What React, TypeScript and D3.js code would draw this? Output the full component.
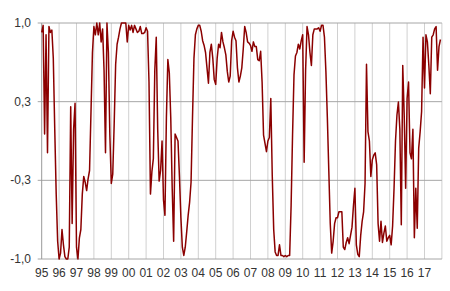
import React from "react";
import * as d3 from "d3";

// Monthly values, Jan 1995 – Dec 2017
const y1995 = [0.92, 0.98, 0.06, 0.9, -0.1, 0.97, 0.92, 0.94, 0.7, 0.1, -0.45, -0.85];
const y1996 = [-1.0, -0.95, -0.75, -0.88, -0.98, -1.0, -1.0, -0.9, 0.29, -0.7, 0.1, 0.32];
const y1997 = [-0.9, -1.0, -0.82, -0.75, -0.45, -0.3, -0.35, -0.42, -0.32, -0.25, 0.25, 0.75];
const y1998 = [0.97, 0.9, 1.0, 0.9, 1.0, 0.84, 0.95, 0.6, -0.1, 1.0, 0.75, 0.05];
const y1999 = [-0.36, -0.28, 0.15, 0.65, 0.82, 0.88, 0.95, 1.0, 1.0, 1.0, 1.0, 0.84];
const y2000 = [0.98, 0.94, 0.98, 0.92, 0.98, 0.95, 0.92, 0.93, 0.97, 0.91, 0.91, 0.92];
const y2001 = [0.96, 0.93, 0.5, -0.45, -0.26, -0.15, 0.6, 0.88, 0.1, -0.34, -0.25, 0.0];
const y2002 = [-0.5, -0.63, 0.2, 0.69, 0.58, 0.2, -0.4, -0.85, 0.06, 0.03, 0.0, -0.3];
const y2003 = [-0.65, -0.9, -0.97, -0.9, -0.77, -0.63, -0.52, -0.35, 0.2, 0.7, 0.9, 0.95];
const y2004 = [0.98, 0.98, 0.93, 0.85, 0.81, 0.75, 0.62, 0.49, 0.75, 0.82, 0.7, 0.52];
const y2005 = [0.48, 0.7, 0.82, 0.79, 0.92, 0.84, 0.79, 0.73, 0.59, 0.5, 0.55, 0.85];
const y2006 = [0.93, 0.88, 0.85, 0.62, 0.5, 0.55, 0.62, 0.78, 0.97, 0.92, 0.84, 0.83];
const y2007 = [0.81, 0.76, 0.84, 0.8, 0.8, 0.69, 0.68, 0.76, 0.5, 0.05, -0.02, -0.09];
const y2008 = [0.0, 0.03, 0.36, -0.29, -0.75, -0.94, -0.97, -0.97, -0.88, -0.97, -0.97, -0.98];
const y2009 = [-0.97, -0.98, -0.97, -0.97, -0.55, 0.05, 0.56, 0.72, 0.75, 0.82, 0.78, 0.85];
const y2010 = [0.9, -0.18, 0.6, 0.97, 0.9, 0.75, 0.64, 0.9, 0.95, 0.95, 0.95, 0.96];
const y2011 = [0.93, 0.98, 0.98, 0.88, 0.59, 0.2, -0.25, -0.7, -0.95, -0.85, -0.7, -0.65];
const y2012 = [-0.65, -0.6, -0.6, -0.6, -0.9, -0.92, -0.86, -0.82, -0.87, -0.8, -0.73, -0.55];
const y2013 = [-0.4, -0.88, -0.96, -0.98, -0.8, -0.68, -0.6, -0.36, 0.65, 0.08, 0.0, -0.3];
const y2014 = [-0.16, -0.12, -0.1, -0.2, -0.7, -0.85, -0.68, -0.86, -0.78, -0.72, -0.85, -0.82];
const y2015 = [-0.8, -0.88, -0.72, -0.4, 0.0, 0.22, 0.33, 0.1, -0.71, 0.64, 0.22, -0.4];
const y2016 = [0.36, 0.5, -0.1, -0.15, 0.1, -0.82, -0.4, -0.74, -0.06, 0.08, 0.25, 0.88];
const y2017 = [0.45, 0.9, 0.84, 0.64, 0.4, 0.88, 0.9, 0.95, 0.97, 0.6, 0.8, 0.86];

const values: number[] = [
  ...y1995, ...y1996, ...y1997, ...y1998, ...y1999, ...y2000, ...y2001, ...y2002,
  ...y2003, ...y2004, ...y2005, ...y2006, ...y2007, ...y2008, ...y2009, ...y2010,
  ...y2011, ...y2012, ...y2013, ...y2014, ...y2015, ...y2016, ...y2017,
];

const yearLabels = ["95", "96", "97", "98", "99", "00", "01", "02", "03", "04", "05", "06",
  "07", "08", "09", "10", "11", "12", "13", "14", "15", "16", "17"];

const yTicks = [1, 1 / 3, -1 / 3, -1];
const yTickLabels = ["1,0", "0,3", "-0,3", "-1,0"];

const W = 450;
const H = 291;
const left = 41.7;
const right = 441.9;
const top = 23;
const bottom = 259;

export default function App() {
  const x = d3.scaleLinear().domain([0, yearLabels.length * 12]).range([left, right]);
  const y = d3.scaleLinear().domain([-1, 1]).range([bottom, top]);
  const line = d3
    .line<number>()
    .x((_, i) => x(i))
    .y((d) => y(d))
    .curve(d3.curveLinear);

  const font = "'Liberation Sans', Arial, sans-serif";

  return (
    <svg
      width={W}
      height={H}
      style={{ position: "absolute", left: 0, top: 0, background: "#fff" }}
    >
      {/* vertical gridlines */}
      {yearLabels.map((_, i) =>
        i === 0 ? null : (
          <line
            key={"v" + i}
            x1={x(i * 12)}
            x2={x(i * 12)}
            y1={top}
            y2={bottom}
            stroke="#d0d0d0"
            strokeWidth={1}
          />
        )
      )}
      <line x1={right} x2={right} y1={top} y2={bottom} stroke="#d0d0d0" strokeWidth={1} />
      {/* horizontal gridlines */}
      {yTicks.map((t, i) => (
        <line
          key={"h" + i}
          x1={i === 3 ? left - 4 : left - 4}
          x2={right}
          y1={y(t)}
          y2={y(t)}
          stroke="#a6a6a6"
          strokeWidth={1}
        />
      ))}
      {/* left axis */}
      <line x1={left} x2={left} y1={top} y2={bottom} stroke="#999" strokeWidth={1} />
      {/* y labels */}
      {yTicks.map((t, i) => (
        <text
          key={"yl" + i}
          x={31}
          y={y(t) + 4}
          textAnchor="end"
          fontFamily={font}
          fontSize={12}
          fill="#333"
        >
          {yTickLabels[i]}
        </text>
      ))}
      {/* x labels */}
      {yearLabels.map((lab, i) => (
        <text
          key={"xl" + i}
          x={x(i * 12)}
          y={277}
          textAnchor="middle"
          fontFamily={font}
          fontSize={12}
          fill="#333"
        >
          {lab}
        </text>
      ))}
      {/* data line */}
      <path
        d={line(values) || ""}
        fill="none"
        stroke="#8b0000"
        strokeWidth={1.5}
        strokeLinejoin="round"
      />
    </svg>
  );
}
